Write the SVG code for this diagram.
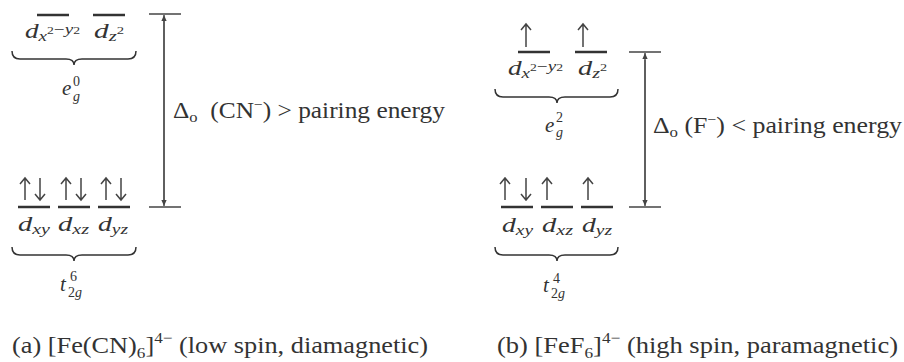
<svg xmlns="http://www.w3.org/2000/svg" width="904" height="362" viewBox="0 0 904 362" font-family="Liberation Serif, DejaVu Serif, serif">
<style>
text{font-family:'Liberation Serif','DejaVu Serif',serif;fill:#333}
.m{font-size:20px;font-style:italic}
.me{font-size:21px;font-style:italic}
.s{font-size:14px;font-style:italic}
.ss{font-size:10px;font-style:normal}
.n{font-style:normal}
.lbl{font-size:23px}
.cap{font-size:23px}
.lvl{stroke:#333;stroke-width:2.5}
.tick{stroke:#444;stroke-width:1.5}
.gap{stroke:#555;stroke-width:1.5}
.brace{fill:none;stroke:#333;stroke-width:1.5}
.e{fill:none;stroke:#444;stroke-width:1.5}
</style>
<defs>
<marker id="ah" viewBox="0 0 8 10" refX="8" refY="5" markerWidth="6" markerHeight="7.5" orient="auto" markerUnits="userSpaceOnUse">
<path d="M0,1.5 L8,5 L0,8.5 z" fill="#444"/>
</marker>
</defs>

<!-- Panel (a) -->
<g id="a-eg">
<line class="lvl" x1="37" y1="15" x2="69" y2="15"/>
<line class="lvl" x1="93" y1="15" x2="125" y2="15"/>
<text class="m" x="25" y="38" textLength="55" lengthAdjust="spacingAndGlyphs">d<tspan class="s" dy="3">x</tspan><tspan class="ss" dy="-7">2</tspan><tspan class="s n" dy="0">−</tspan><tspan class="s" dy="0">y</tspan><tspan class="ss" dy="0">2</tspan></text>
<text class="m" x="94" y="38" textLength="30" lengthAdjust="spacingAndGlyphs">d<tspan class="s" dy="3">z</tspan><tspan class="ss" dy="-7">2</tspan></text>
<path class="brace" d="M12,51 Q12,59 20,59 L66,59 Q74,59 74,65 Q74,59 82,59 L128,59 Q136,59 136,51"/>
<text class="me" x="62" y="95">e</text>
<text class="s n" x="73" y="86">0</text>
<text class="s" x="73" y="101">g</text>
</g>

<g id="a-t2g">
<line class="lvl" x1="18" y1="207" x2="50" y2="207"/>
<line class="lvl" x1="58" y1="207" x2="90" y2="207"/>
<line class="lvl" x1="98" y1="207" x2="130" y2="207"/>
<path class="e" d="M25,200 V178 M20,184 L25,178 L30,184 M40,178 V200 M35,194 L40,200 L45,194"/>
<path class="e" d="M66,200 V178 M61,184 L66,178 L71,184 M81,178 V200 M76,194 L81,200 L86,194"/>
<path class="e" d="M106,200 V178 M101,184 L106,178 L111,184 M121,178 V200 M116,194 L121,200 L126,194"/>
<text class="m" x="18" y="231" textLength="32" lengthAdjust="spacingAndGlyphs">d<tspan class="s" dy="3">xy</tspan></text>
<text class="m" x="58" y="231" textLength="31" lengthAdjust="spacingAndGlyphs">d<tspan class="s" dy="3">xz</tspan></text>
<text class="m" x="98" y="231" textLength="30" lengthAdjust="spacingAndGlyphs">d<tspan class="s" dy="3">yz</tspan></text>
<path class="brace" d="M12,247 Q12,255 20,255 L66,255 Q74,255 74,261 Q74,255 82,255 L128,255 Q136,255 136,247"/>
<text class="me" x="60" y="291">t</text>
<text class="s n" x="70" y="281">6</text>
<text class="s" x="68" y="297"><tspan class="n">2</tspan>g</text>
</g>

<g id="a-gap">
<line class="tick" x1="149" y1="14" x2="181" y2="14"/>
<line class="tick" x1="149" y1="207" x2="181" y2="207"/>
<text class="lbl" x="173" y="118" textLength="272" lengthAdjust="spacingAndGlyphs">Δ<tspan font-size="15" dy="4">o</tspan><tspan dy="-4" xml:space="preserve">  (CN</tspan><tspan font-size="14" dy="-9">−</tspan><tspan dy="9">) &gt; pairing energy</tspan></text>
</g>

<!-- Panel (b) -->
<g id="b-eg">
<line class="lvl" x1="518" y1="52" x2="550" y2="52"/>
<line class="lvl" x1="575" y1="52" x2="607" y2="52"/>
<path class="e" d="M526,47 V24 M521,30 L526,24 L531,30"/>
<path class="e" d="M583,47 V24 M578,30 L583,24 L588,30"/>
<text class="m" x="508" y="75" textLength="55" lengthAdjust="spacingAndGlyphs">d<tspan class="s" dy="3">x</tspan><tspan class="ss" dy="-7">2</tspan><tspan class="s n" dy="0">−</tspan><tspan class="s" dy="0">y</tspan><tspan class="ss" dy="0">2</tspan></text>
<text class="m" x="578" y="75" textLength="29" lengthAdjust="spacingAndGlyphs">d<tspan class="s" dy="3">z</tspan><tspan class="ss" dy="-7">2</tspan></text>
<path class="brace" d="M495,89 Q495,97 503,97 L549,97 Q557,97 557,103 Q557,97 565,97 L610,97 Q618,97 618,89"/>
<text class="me" x="545" y="132">e</text>
<text class="s n" x="556" y="122">2</text>
<text class="s" x="556" y="137">g</text>
</g>

<g id="b-t2g">
<line class="lvl" x1="501" y1="207" x2="533" y2="207"/>
<line class="lvl" x1="541" y1="207" x2="573" y2="207"/>
<line class="lvl" x1="581" y1="207" x2="613" y2="207"/>
<path class="e" d="M505,200 V178 M500,184 L505,178 L510,184 M526,178 V200 M521,194 L526,200 L531,194"/>
<path class="e" d="M547,200 V178 M542,184 L547,178 L552,184"/>
<path class="e" d="M588,200 V178 M583,184 L588,178 L593,184"/>
<text class="m" x="502" y="232" textLength="31" lengthAdjust="spacingAndGlyphs">d<tspan class="s" dy="3">xy</tspan></text>
<text class="m" x="542" y="232" textLength="31" lengthAdjust="spacingAndGlyphs">d<tspan class="s" dy="3">xz</tspan></text>
<text class="m" x="582" y="232" textLength="30" lengthAdjust="spacingAndGlyphs">d<tspan class="s" dy="3">yz</tspan></text>
<path class="brace" d="M495,247 Q495,255 503,255 L549,255 Q557,255 557,261 Q557,255 565,255 L610,255 Q618,255 618,247"/>
<text class="me" x="543" y="292">t</text>
<text class="s n" x="553" y="283">4</text>
<text class="s" x="551" y="298"><tspan class="n">2</tspan>g</text>
</g>

<g id="b-gap">
<line class="tick" x1="629" y1="52" x2="661" y2="52"/>
<line class="tick" x1="629" y1="207" x2="661" y2="207"/>
<text class="lbl" x="653" y="133" textLength="249" lengthAdjust="spacingAndGlyphs">Δ<tspan font-size="15" dy="4">o</tspan><tspan dy="-4"> (F</tspan><tspan font-size="14" dy="-9">−</tspan><tspan dy="9">) &lt; pairing energy</tspan></text>
</g>

<g id="connectors">
<line class="gap" x1="164" y1="200" x2="164" y2="15" marker-end="url(#ah)"/>
<line class="gap" x1="164" y1="21" x2="164" y2="206" marker-end="url(#ah)"/>
<line class="gap" x1="645" y1="200" x2="645" y2="53" marker-end="url(#ah)"/>
<line class="gap" x1="645" y1="60" x2="645" y2="206" marker-end="url(#ah)"/>
</g>

<g id="captions">
<text class="cap" x="12" y="353" textLength="416" lengthAdjust="spacingAndGlyphs">(a) [Fe(CN)<tspan font-size="15" dy="5">6</tspan><tspan dy="-5">]</tspan><tspan font-size="15" dy="-10">4−</tspan><tspan dy="10"> (low spin, diamagnetic)</tspan></text>
<text class="cap" x="497" y="353" textLength="401" lengthAdjust="spacingAndGlyphs">(b) [FeF<tspan font-size="15" dy="5">6</tspan><tspan dy="-5">]</tspan><tspan font-size="15" dy="-10">4−</tspan><tspan dy="10"> (high spin, paramagnetic)</tspan></text>
</g>
</svg>
